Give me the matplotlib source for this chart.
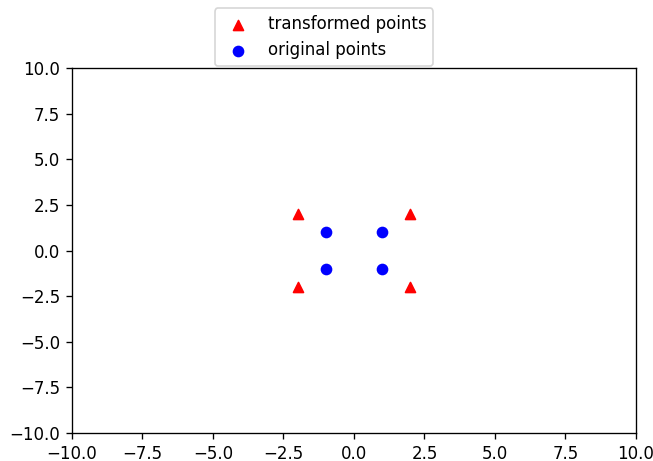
import matplotlib
matplotlib.use("Agg")
import matplotlib.pyplot as plt

# original square corners and the transformed (scaled by 2) corners
orig_x = [1, -1, -1, 1]
orig_y = [1, 1, -1, -1]
trans_x = [2, -2, -2, 2]
trans_y = [2, 2, -2, -2]

DPI = 120
fig = plt.figure(figsize=(653 / DPI, 461 / DPI), dpi=DPI)
ax = fig.add_axes([0.110, 0.061, 0.864, 0.791])

ax.scatter(trans_x, trans_y, c="red", marker="^", label="transformed points")
ax.scatter(orig_x, orig_y, c="blue", marker="o", label="original points")

ax.set_xlim(-10, 10)
ax.set_ylim(-10, 10)

ax.legend(loc="lower center", bbox_to_anchor=(0.447, 1.006), borderaxespad=0)

fig.savefig("out.png", dpi=DPI)
